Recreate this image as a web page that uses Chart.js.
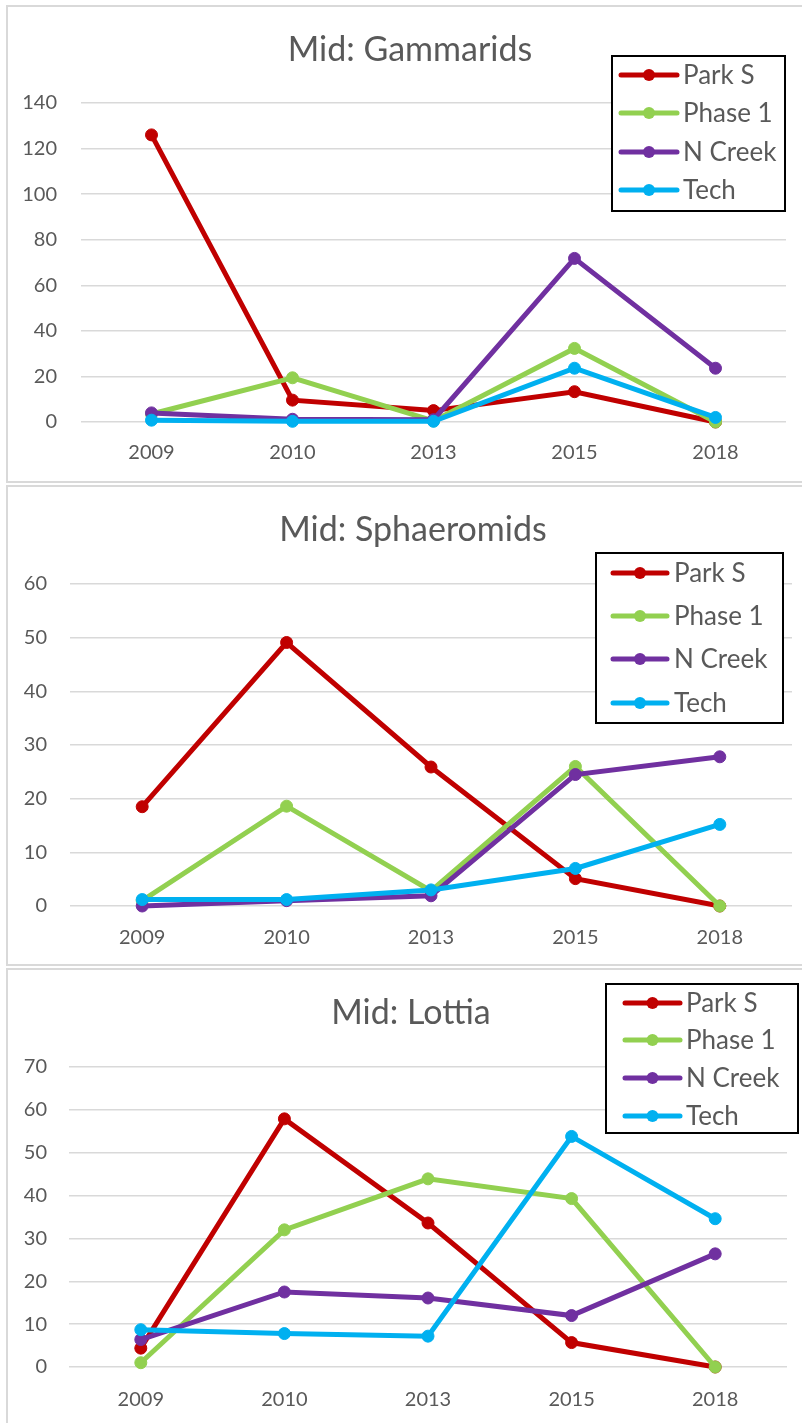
<!DOCTYPE html>
<html>
<head>
<meta charset="utf-8">
<script src="https://cdn.jsdelivr.net/npm/chart.js@4.4.1/dist/chart.umd.min.js"></script>
<style>
  html, body { margin: 0; padding: 0; background: #fff; }
  body { position: relative; width: 802px; height: 1423px; overflow: hidden; }
  .frame { position: absolute; left: 6px; width: 830px; border: 2px solid #d9d9d9; box-sizing: border-box; }
  canvas { position: absolute; left: 0; }
</style>
</head>
<body>
<div class="frame" style="top:5px;height:478px"></div>
<div class="frame" style="top:485px;height:481px"></div>
<div class="frame" style="top:968px;height:480px"></div>
<canvas id="gammaridsChart" width="802" height="483" style="top:0px"></canvas>
<canvas id="sphaeromidsChart" width="802" height="482" style="top:484px"></canvas>
<canvas id="lottiaChart" width="802" height="455" style="top:968px"></canvas>
<script>
  const years = ["2009", "2010", "2013", "2015", "2018"];
  const seriesNames = ["Park S", "Phase 1", "N Creek", "Tech"];
  const seriesColors = ["#c00000", "#92d050", "#7030a0", "#00b0f0"];

  // Mid: Gammarids
  const gamParkS = [126, 9.6, 5, 13.3, 0];
  const gamPhase1 = [3.5, 19.4, 0.5, 32.3, 0];
  const gamNCreek = [4, 1.2, 1, 71.8, 23.6];
  const gamTech = [0.8, 0.3, 0.3, 23.6, 2];
  const gamTicks = [0, 20, 40, 60, 80, 100, 120, 140];

  // Mid: Sphaeromids
  const sphParkS = [18.5, 49.1, 25.9, 5.1, 0];
  const sphPhase1 = [1, 18.6, 2.8, 26, 0];
  const sphNCreek = [0, 1, 1.9, 24.5, 27.8];
  const sphTech = [1.2, 1.2, 3, 7, 15.2];
  const sphTicks = [0, 10, 20, 30, 40, 50, 60];

  // Mid: Lottia
  const lotParkS = [4.4, 57.9, 33.6, 5.7, 0];
  const lotPhase1 = [1, 32, 43.9, 39.3, 0];
  const lotNCreek = [6.4, 17.5, 16.1, 12, 26.4];
  const lotTech = [8.7, 7.8, 7.2, 53.8, 34.6];
  const lotTicks = [0, 10, 20, 30, 40, 50, 60, 70];

  const FONT = "Lato, 'Open Sans', sans-serif";
  const TEXT = "#595959";

  const overlayPlugin = {
    id: "overlay",
    afterDraw(chart, args, opts) {
      const ctx = chart.ctx;
      ctx.save();
      ctx.fillStyle = TEXT;
      ctx.font = "34px " + FONT;
      ctx.textAlign = "center";
      ctx.textBaseline = "alphabetic";
      ctx.fillText(opts.title, opts.titleX, opts.titleY);

      const b = opts.legend;
      ctx.fillStyle = "#fff";
      ctx.fillRect(b.x, b.y, b.w, b.h);
      ctx.lineWidth = 2;
      ctx.strokeStyle = "#000";
      ctx.strokeRect(b.x + 1, b.y + 1, b.w - 2, b.h - 2);

      ctx.font = "26px " + FONT;
      ctx.textAlign = "left";
      chart.data.datasets.forEach(function (ds, i) {
        const y = b.rows[i];
        ctx.strokeStyle = ds.borderColor;
        ctx.lineWidth = 5;
        ctx.lineCap = "round";
        ctx.beginPath();
        ctx.moveTo(b.lineX1, y);
        ctx.lineTo(b.lineX2, y);
        ctx.stroke();
        ctx.fillStyle = ds.borderColor;
        ctx.beginPath();
        ctx.arc((b.lineX1 + b.lineX2) / 2, y, 6, 0, Math.PI * 2);
        ctx.fill();
        ctx.fillStyle = TEXT;
        ctx.fillText(ds.label, b.textX, y + 9);
      });
      ctx.restore();
    },
  };

  function makeChart(id, values, ticks, geo) {
    const canvas = document.getElementById(id);
    if (!canvas) {
      return;
    }
    const ctx = canvas.getContext("2d");
    const h = canvas.height;

    new Chart(ctx, {
      type: "line",
      data: {
        labels: years,
        datasets: values.map(function (vals, i) {
          return {
            label: seriesNames[i],
            data: vals,
            borderColor: seriesColors[i],
            backgroundColor: seriesColors[i],
            pointBackgroundColor: seriesColors[i],
            pointBorderColor: seriesColors[i],
            borderWidth: 5,
            pointRadius: 6,
            pointBorderWidth: 1,
            tension: 0,
            fill: false,
            clip: false,
            order: 3 - i,
          };
        }),
      },
      options: {
        responsive: false,
        animation: false,
        layout: {
          padding: { left: 0, right: 802 - geo.plotRight, top: geo.gridTop, bottom: 0 },
        },
        plugins: {
          legend: { display: false },
          tooltip: { enabled: false },
          overlay: geo.overlay,
        },
        scales: {
          x: {
            offset: true,
            grid: { display: false, drawTicks: false },
            border: { display: false },
            ticks: {
              color: TEXT,
              font: { family: FONT, size: 20 },
              padding: geo.xPad,
              maxRotation: 0,
            },
            afterFit: function (scale) {
              scale.height = h - geo.gridBottom;
            },
          },
          y: {
            min: 0,
            max: ticks[ticks.length - 1],
            afterBuildTicks: function (scale) {
              scale.ticks = ticks.map(function (v) { return { value: v }; });
            },
            grid: { color: "#d9d9d9", lineWidth: 1.5, drawTicks: false },
            border: { display: false },
            ticks: {
              color: TEXT,
              font: { family: FONT, size: 20 },
              padding: geo.yPad,
            },
            afterFit: function (scale) {
              scale.width = geo.plotLeft;
            },
          },
        },
      },
      plugins: [overlayPlugin],
    });
  }

  function init() {
    makeChart("gammaridsChart", [gamParkS, gamPhase1, gamNCreek, gamTech], gamTicks, {
      plotLeft: 81, plotRight: 786, gridTop: 103, gridBottom: 422, xPad: 19, yPad: 24,
      overlay: {
        title: "Mid: Gammarids", titleX: 410, titleY: 61,
        legend: { x: 611, y: 55, w: 175, h: 157, rows: [75, 113, 152, 190], lineX1: 621, lineX2: 677, textX: 683 },
      },
    });
    makeChart("sphaeromidsChart", [sphParkS, sphPhase1, sphNCreek, sphTech], sphTicks, {
      plotLeft: 70, plotRight: 792, gridTop: 100, gridBottom: 422, xPad: 20, yPad: 23,
      overlay: {
        title: "Mid: Sphaeromids", titleX: 413, titleY: 57,
        legend: { x: 595, y: 68, w: 189, h: 172, rows: [89, 132, 175, 219], lineX1: 613, lineX2: 667, textX: 674 },
      },
    });
    makeChart("lottiaChart", [lotParkS, lotPhase1, lotNCreek, lotTech], lotTicks, {
      plotLeft: 69, plotRight: 787, gridTop: 99, gridBottom: 399, xPad: 21, yPad: 22,
      overlay: {
        title: "Mid: Lottia", titleX: 411, titleY: 56,
        legend: { x: 605, y: 15, w: 194, h: 151, rows: [35, 72, 110, 148], lineX1: 625, lineX2: 680, textX: 686 },
      },
    });
  }

  document.addEventListener("DOMContentLoaded", function () {
    if (document.fonts && document.fonts.load) {
      document.fonts.load("20px Lato").then(init, init);
    } else {
      init();
    }
  });
</script>
</body>
</html>
